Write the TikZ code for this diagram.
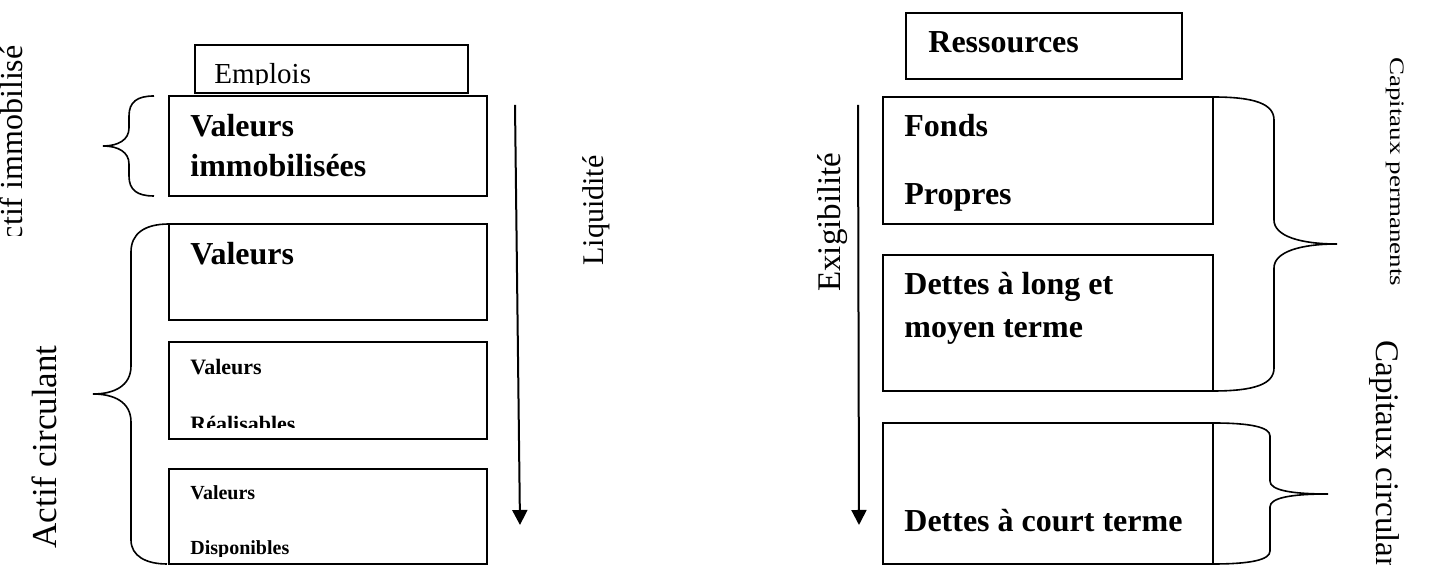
\documentclass[tikz,border=0pt]{standalone}
\usepackage{fontspec}
\setmainfont{Liberation Serif}
\usepackage{tikz}
\usetikzlibrary{arrows.meta, fit}
\tikzstyle{boite} = [draw=black, line width=1pt, inner sep=0pt]
\tikzstyle{texte} = [anchor=base west, inner sep=0pt]
\tikzstyle{vertical} = [rotate=90, anchor=base east, inner sep=0pt]
\tikzstyle{accolade} = [line width=0.8pt]
\tikzstyle{fleche} = [line width=1pt, -{Triangle[length=7.5pt,width=7.5pt]}]

\begin{document}
\begin{tikzpicture}[x=0.5pt,y=-0.5pt]
                            \useasboundingbox (0,0) rectangle (1431,565);
                            % emplois
                            \node[boite, fit={(195,45) (468,93)}] (emplois) {};
                            \begin{scope}
                                \clip (195,45) rectangle (468,84.5);
                                \node[texte, font=\fontsize{14.5}{17}\selectfont] (templois) at (214,84) {Emplois};
                            \end{scope}
                            \node[boite, fit={(169,96) (487,196)}] (vimmo) {};
                            \node[texte, font=\fontsize{16}{19}\selectfont\bfseries] (tvimmoa) at (190,137) {Valeurs};
                            \node[texte, font=\fontsize{16}{19}\selectfont\bfseries] (tvimmob) at (190,177) {immobilisées};
                            \node[boite, fit={(169,224) (487,320)}] (vexpl) {};
                            \node[texte, font=\fontsize{16}{19}\selectfont\bfseries] (tvexpl) at (190,265) {Valeurs};
                            \node[boite, fit={(169,342) (487,439)}] (vreal) {};
                            \node[texte, font=\fontsize{11}{13}\selectfont\bfseries] (tvreala) at (190,375) {Valeurs};
                            \begin{scope}
                                \clip (169,342) rectangle (487,428);
                                \node[texte, font=\fontsize{11}{13}\selectfont\bfseries] (tvrealb) at (190,432) {Réalisables};
                            \end{scope}
                            \node[boite, fit={(169,469) (487,564)}] (vdisp) {};
                            \node[texte, font=\fontsize{10}{12}\selectfont\bfseries] (tvdispa) at (190,500) {Valeurs};
                            \begin{scope}
                                \clip (169,469) rectangle (487,556.5);
                                \node[texte, font=\fontsize{10}{12}\selectfont\bfseries] (tvdispb) at (190,555) {Disponibles};
                            \end{scope}
                            % accolades gauche
                            \draw[accolade] (154,96) .. controls (137,96) and (129,102) .. (129,116) -- (129,128) .. controls (129,140) and (118,146) .. (103,146) .. controls (118,146) and (129,152) .. (129,164) -- (129,176) .. controls (129,190) and (137,196) .. (154,196);
                            \draw[accolade] (169,224) .. controls (144,224) and (131,234) .. (131,252) -- (131,366) .. controls (131,386) and (114,394) .. (93,394) .. controls (114,394) and (131,402) .. (131,422) -- (131,540) .. controls (131,556) and (146,564) .. (167,564);
                            \begin{scope}
                                \clip (0,0) rectangle (100,236);
                                \node[vertical, font=\fontsize{16}{19}\selectfont] (actimmo) at (23,45) {Actif immobilisé};
                            \end{scope}
                            \node[vertical, font=\fontsize{17.5}{20}\selectfont] (actcirc) at (56,345) {Actif circulant};
                            % liquidite
                            \coordinate (liqhaut) at (515,105);
                            \coordinate (liqbas) at (520,525);
                            \draw[fleche] (liqhaut) -- (liqbas);
                            \node[vertical, font=\fontsize{15}{18}\selectfont] (liquidite) at (603,155) {Liquidité};
                            % ressources
                            \node[boite, fit={(906,13) (1182,79)}] (ressources) {};
                            \node[texte, font=\fontsize{16}{19}\selectfont\bfseries] (tressources) at (928,53) {Ressources};
                            \node[boite, fit={(883,97) (1213,224)}] (fonds) {};
                            \node[texte, font=\fontsize{16}{19}\selectfont\bfseries] (tfondsa) at (904,137) {Fonds};
                            \node[texte, font=\fontsize{16}{19}\selectfont\bfseries] (tfondsb) at (904,205) {Propres};
                            \node[boite, fit={(883,255) (1213,391)}] (dlmt) {};
                            \node[texte, font=\fontsize{16}{19}\selectfont\bfseries] (tdlmta) at (904,295) {Dettes à long et};
                            \node[texte, font=\fontsize{16}{19}\selectfont\bfseries] (tdlmtb) at (904,338) {moyen terme};
                            \node[boite, fit={(883,423) (1213,564)}] (dct) {};
                            \node[texte, font=\fontsize{16}{19}\selectfont\bfseries] (tdct) at (904,532) {Dettes à court terme};
                            % exigibilite
                            \coordinate (exihaut) at (858,105);
                            \coordinate (exibas) at (859,525);
                            \draw[fleche] (exihaut) -- (exibas);
                            \node[vertical, font=\fontsize{16.5}{19}\selectfont] (exigibilite) at (840,152) {Exigibilité};
                            % accolades droite
                            \draw[accolade] (1213,97) .. controls (1255,97) and (1274,104) .. (1274,120) -- (1274,220) .. controls (1274,236) and (1300,244) .. (1337,244) .. controls (1300,244) and (1274,252) .. (1274,268) -- (1274,368) .. controls (1274,384) and (1255,391) .. (1213,391);
                            \draw[accolade] (1213,423) .. controls (1250,423) and (1270,427) .. (1270,436) -- (1270,481) .. controls (1270,490) and (1290,494) .. (1328,494) .. controls (1290,494) and (1270,498) .. (1270,507) -- (1270,551) .. controls (1270,560) and (1250,564) .. (1213,564);
                            \node[rotate=-90, anchor=base west, inner sep=0pt, font=\fontsize{13.5}{16}\selectfont] (cperm) at (1390,57) {\scalebox{1}[0.76]{Capitaux permanents}};
                            \node[rotate=-90, anchor=base west, inner sep=0pt, font=\fontsize{16.5}{19}\selectfont] (ccirc) at (1376,340) {Capitaux circulants};
                        \end{tikzpicture}
\end{document}
